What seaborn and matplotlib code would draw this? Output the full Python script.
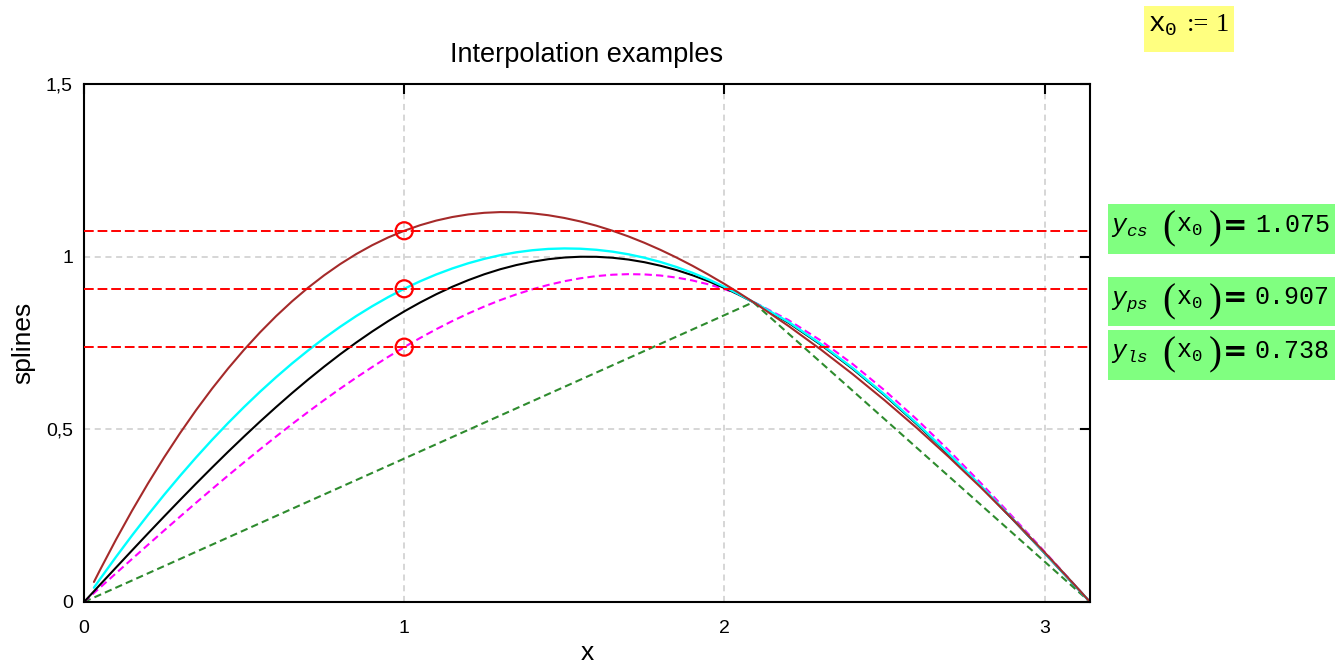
import matplotlib
matplotlib.use("Agg")
import matplotlib.pyplot as plt
from matplotlib.patches import Rectangle
import seaborn as sns
import pandas as pd

# ---------------- data ----------------
x_grid = [0.0, 0.05, 0.1, 0.15, 0.2, 0.25, 0.3, 0.35, 0.4, 0.45, 0.5, 0.55, 0.6, 0.65, 0.7,
          0.75, 0.8, 0.85, 0.9, 0.95, 1.0, 1.05, 1.1, 1.15, 1.2, 1.25, 1.3, 1.35, 1.4, 1.45,
          1.5, 1.55, 1.6, 1.65, 1.7, 1.75, 1.8, 1.85, 1.9, 1.95, 2.0, 2.04, 2.08, 2.1, 2.2,
          2.3, 2.4, 2.5, 2.6, 2.7, 2.8, 2.9, 3.0, 3.1, 3.1416]
x_grid_cb = [0.031] + x_grid[1:]

y_exact = [0.0, 0.0500, 0.0998, 0.1494, 0.1987, 0.2474, 0.2955, 0.3429, 0.3894, 0.4350,
           0.4794, 0.5227, 0.5646, 0.6052, 0.6442, 0.6816, 0.7174, 0.7513, 0.7833, 0.8134,
           0.8415, 0.8674, 0.8912, 0.9128, 0.9320, 0.9490, 0.9636, 0.9757, 0.9854, 0.9927,
           0.9975, 0.9998, 0.9996, 0.9969, 0.9917, 0.9840, 0.9738, 0.9613, 0.9463, 0.9290,
           0.9093, 0.8921, 0.8730, 0.8632, 0.8085, 0.7457, 0.6755, 0.5985, 0.5155, 0.4274,
           0.3350, 0.2392, 0.1411, 0.0416, 0.0]
y_lspline = [0.0, 0.0416, 0.0832, 0.1246, 0.1658, 0.2068, 0.2473, 0.2875, 0.3271, 0.3662,
             0.4046, 0.4423, 0.4793, 0.5154, 0.5505, 0.5847, 0.6178, 0.6497, 0.6804, 0.7099,
             0.738, 0.7647, 0.7899, 0.8135, 0.8354, 0.8557, 0.8742, 0.8908, 0.9055, 0.9182,
             0.9289, 0.9374, 0.9437, 0.9477, 0.9494, 0.9486, 0.9454, 0.9395, 0.9311, 0.9199,
             0.906, 0.8928, 0.874, 0.8646, 0.8164, 0.7576, 0.6894, 0.6130, 0.5294, 0.4398,
             0.3452, 0.2468, 0.1456, 0.0429, 0.0]
y_pspline = [0.0414, 0.0664, 0.1306, 0.1927, 0.2525, 0.3101, 0.3654, 0.4186, 0.4696, 0.5183,
             0.5648, 0.6091, 0.6511, 0.6910, 0.7285, 0.7639, 0.7970, 0.8279, 0.8565, 0.8829,
             0.9070, 0.9289, 0.9485, 0.9658, 0.9809, 0.9937, 1.0043, 1.0126, 1.0186, 1.0224,
             1.0238, 1.0230, 1.0199, 1.0146, 1.0069, 0.9969, 0.9847, 0.9701, 0.9533, 0.9341,
             0.9126, 0.8938, 0.8734, 0.864, 0.811, 0.748, 0.678, 0.601, 0.518, 0.430,
             0.337, 0.241, 0.142, 0.042, 0.0]
y_cspline = [0.0580, 0.0927, 0.1808, 0.2644, 0.3436, 0.4185, 0.4891, 0.5556, 0.6179, 0.6762,
             0.7306, 0.7811, 0.8279, 0.8709, 0.9103, 0.9461, 0.9785, 1.0075, 1.0332, 1.0557,
             1.0750, 1.0912, 1.1045, 1.1148, 1.1223, 1.1270, 1.1291, 1.1286, 1.1255, 1.1200,
             1.1121, 1.1020, 1.0897, 1.0752, 1.0587, 1.0402, 1.0198, 0.9976, 0.9737, 0.9481,
             0.9210, 0.8982, 0.8745, 0.8627, 0.7993, 0.7318, 0.6601, 0.5843, 0.5045, 0.4205,
             0.3323, 0.2400, 0.1436, 0.0430, 0.0]
x_nodes = [0.0, 2.09, 3.1416]
y_linear = [0.0, 0.868, 0.0]

x0_value = [1.0, 1.0, 1.0]
y_at_x0 = [1.075, 0.907, 0.738]
y_at_x0_labels = ["1.075", "0.907", "0.738"]
spline_names = ["cs", "ps", "ls"]

x_ticks = [0, 1, 2, 3]
x_tick_labels = ["0", "1", "2", "3"]
y_ticks = [0, 0.5, 1, 1.5]
y_tick_labels = ["0", "0,5", "1", "1,5"]
x_max = 3.1416
y_max = 1.5

# ---------------- style ----------------
sns.set_theme(style="white")
plt.rcParams["font.family"] = ["Liberation Sans", "DejaVu Sans"]
plt.rcParams["mathtext.fontset"] = "custom"
plt.rcParams["mathtext.rm"] = "Liberation Mono"
plt.rcParams["mathtext.it"] = "Liberation Mono:italic"
plt.rcParams["mathtext.bf"] = "Liberation Mono:bold"
for k in ["text.color", "axes.labelcolor", "xtick.color", "ytick.color"]:
    plt.rcParams[k] = "black"

W, H = 1335, 672
fig = plt.figure(figsize=(W / 100, H / 100), dpi=100)
fig.patch.set_facecolor("white")
ax = fig.add_axes([84 / W, (H - 602) / H, (1090 - 84) / W, (602 - 84) / H])
ax.set_facecolor("white")

df_exact = pd.DataFrame({"x": x_grid, "y": y_exact})
df_ls = pd.DataFrame({"x": x_grid, "y": y_lspline})
df_ps = pd.DataFrame({"x": x_grid_cb, "y": y_pspline})
df_cs = pd.DataFrame({"x": x_grid_cb, "y": y_cspline})
df_lin = pd.DataFrame({"x": x_nodes, "y": y_linear})

lw = 1.5
sns.lineplot(data=df_lin, x="x", y="y", ax=ax, color="#2e8b2e", linewidth=lw,
             linestyle=(0, (3.5, 2)), sort=False, estimator=None)
sns.lineplot(data=df_ls, x="x", y="y", ax=ax, color="#ff00ff", linewidth=lw,
             linestyle=(0, (3.5, 2)), sort=False, estimator=None)
sns.lineplot(data=df_exact, x="x", y="y", ax=ax, color="black", linewidth=lw,
             sort=False, estimator=None)
sns.lineplot(data=df_ps, x="x", y="y", ax=ax, color="#00ffff", linewidth=lw + 0.2,
             sort=False, estimator=None)
sns.lineplot(data=df_cs, x="x", y="y", ax=ax, color="#a52a2a", linewidth=lw,
             sort=False, estimator=None)

for yv in y_at_x0:
    ax.axhline(yv, color="#ff0000", linewidth=1.4, linestyle=(0, (5, 2)), zorder=3)

sns.scatterplot(x=x0_value, y=y_at_x0, ax=ax, marker="o", s=150, facecolor="none",
                edgecolor="#ff0000", linewidth=1.6, zorder=5)

ax.set_xlim(0, x_max)
ax.set_ylim(0, y_max)
ax.set_xticks(x_ticks)
ax.set_xticklabels(x_tick_labels)
ax.set_yticks(y_ticks)
ax.set_yticklabels(y_tick_labels)
ax.grid(True, color="#cccccc", linestyle=(0, (4, 3)), linewidth=1.1)
ax.set_axisbelow(True)
ax.tick_params(direction="in", length=7, width=1.5, top=True, right=True,
               labelsize=14, colors="black")
ax.tick_params(axis="x", pad=13)
ax.tick_params(axis="y", pad=8)
for sp in ax.spines.values():
    sp.set_linewidth(1.5)
    sp.set_color("black")
    sp.set_visible(True)

ax.set_title("Interpolation examples", fontsize=19.5, pad=16, color="black")
ax.set_xlabel("x", fontsize=19)
ax.set_ylabel("splines", fontsize=19)
ax.xaxis.set_label_coords(0.5, (602 - 641) / 518)
ax.yaxis.set_label_coords((35 - 84) / 1006, 0.5)

# ---------------- side annotations ----------------
def fig_rect(x0, y0, x1, y1, color):
    fig.patches.append(Rectangle((x0 / W, (H - y1) / H), (x1 - x0) / W, (y1 - y0) / H,
                                 transform=fig.transFigure, facecolor=color,
                                 edgecolor="none", zorder=0))

def ptext(px, py, s, **kw):
    fig.text(px / W, (H - py) / H, s, **kw)

fig_rect(1144, 6, 1234, 52, "#ffff80")
ptext(1148, 31, r"$\mathrm{x}_{\mathit{0}}$", fontsize=20, ha="left", va="baseline")
ptext(1187, 31, ":=", fontsize=19, family="Liberation Serif", ha="left", va="baseline")
ptext(1216, 31, "1", fontsize=19, family="Liberation Serif", ha="left", va="baseline")

box_y = [(204, 254), (277, 326), (330, 380)]
for (y0, y1), name, lab in zip(box_y, spline_names, y_at_x0_labels):
    fig_rect(1108, y0, 1335, y1, "#80ff80")
    c = (y0 + y1) / 2
    b = c + 3
    ptext(1111, b, r"$y_{%s}$" % name, fontsize=18, ha="left", va="baseline")
    ptext(1162, c, "(", fontsize=28, family="Liberation Serif", ha="left", va="center")
    ptext(1176, b, r"$\mathrm{x}_{\mathit{0}}$", fontsize=18, ha="left", va="baseline")
    ptext(1209, c, ")", fontsize=28, family="Liberation Serif", ha="left", va="center")
    ptext(1223, c - 3, "=", fontsize=21, fontweight="bold", family="DejaVu Sans",
          ha="left", va="center")
    ptext(1255, b, lab, fontsize=18, family="Liberation Mono", ha="left", va="baseline")

fig.savefig("out.png", dpi=100)
